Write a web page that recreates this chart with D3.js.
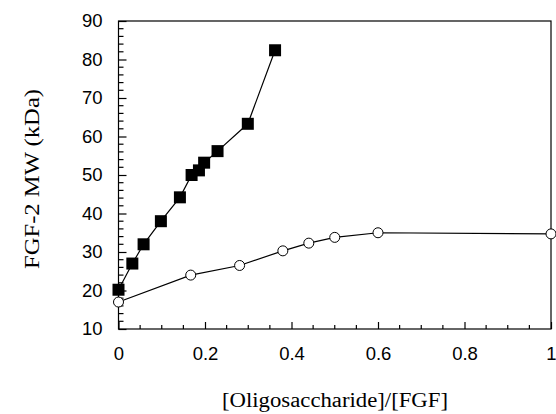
<!DOCTYPE html>
<html><head><meta charset="utf-8">
<script src="https://cdn.jsdelivr.net/npm/d3@7"></script>
<style>body{margin:0;background:#fff}svg{display:block}</style>
</head><body>
<svg id="c" width="556" height="414"></svg>
<script>
const squareX = [0, 0.032, 0.058, 0.098, 0.142, 0.169, 0.186, 0.198, 0.229, 0.299, 0.362];
const squareY = [20.2, 27, 32, 38, 44.2, 50, 51.2, 53.2, 56.2, 63.3, 82.4];
const circleX = [0, 0.167, 0.28, 0.38, 0.44, 0.5, 0.6, 1.0];
const circleY = [17, 24, 26.5, 30.3, 32.3, 33.8, 35, 34.7];
const xTicks = [0, 0.2, 0.4, 0.6, 0.8, 1];
const yTicks = [10, 20, 30, 40, 50, 60, 70, 80, 90];
const xTitle = "[Oligosaccharide]/[FGF]";
const yTitle = "FGF-2 MW (kDa)";

const svg = d3.select("#c");
const L = 118.5, R = 551, T = 21, B = 329;
const x = d3.scaleLinear().domain([0, 1]).range([L, R]);
const y = d3.scaleLinear().domain([10, 90]).range([B, T]);
const sans = "Liberation Sans, Arial, sans-serif";
const serif = "Liberation Serif, Times New Roman, serif";

// frame
svg.append("rect").attr("x", L).attr("y", T).attr("width", R - L).attr("height", B - T)
  .attr("fill", "none").attr("stroke", "#000").attr("stroke-width", 1.2);

// x axis ticks (inward)
const xAxis = d3.axisBottom(x).tickValues(xTicks).tickSize(-7).tickPadding(18)
  .tickFormat(d => d === 0 || d === 1 ? d3.format("d")(d) : d3.format(".1f")(d));
const gx = svg.append("g").attr("transform", `translate(0,${B})`).call(xAxis);
gx.select(".domain").remove();
gx.selectAll(".tick line").attr("stroke-width", 1.2);
gx.selectAll("text").attr("font-family", sans).attr("font-size", 18.5).attr("fill", "#000");
const xMinor = d3.range(0, 1.0001, 0.05).filter(v => !xTicks.some(t => Math.abs(t - v) < 1e-6));
svg.append("g").selectAll("line").data(xMinor).join("line")
  .attr("x1", d => x(d)).attr("x2", d => x(d)).attr("y1", B).attr("y2", B - 4)
  .attr("stroke", "#000").attr("stroke-width", 1.2);

// y axis
const yAxis = d3.axisLeft(y).tickValues(yTicks).tickSize(-8).tickPadding(16).tickFormat(d3.format("d"));
const gy = svg.append("g").attr("transform", `translate(${L},0)`).call(yAxis);
gy.select(".domain").remove();
gy.selectAll(".tick line").attr("stroke-width", 1.2);
gy.selectAll("text").attr("font-family", sans).attr("font-size", 18.5).attr("fill", "#000");
const yMinor = d3.range(10, 90.001, 2).filter(v => v % 10 !== 0);
svg.append("g").selectAll("line").data(yMinor).join("line")
  .attr("x1", L).attr("x2", L + 5).attr("y1", d => y(d)).attr("y2", d => y(d))
  .attr("stroke", "#000").attr("stroke-width", 1.2);

const line = d3.line().x(d => x(d[0])).y(d => y(d[1]));
const sq = squareX.map((v, i) => [v, squareY[i]]);
const ci = circleX.map((v, i) => [v, circleY[i]]);

svg.append("path").attr("d", line(ci)).attr("fill", "none").attr("stroke", "#000").attr("stroke-width", 1.2);
svg.append("path").attr("d", line(sq)).attr("fill", "none").attr("stroke", "#000").attr("stroke-width", 1.2);

const s = 12;
svg.append("g").selectAll("rect").data(sq).join("rect")
  .attr("x", d => x(d[0]) - s / 2).attr("y", d => y(d[1]) - s / 2)
  .attr("width", s).attr("height", s).attr("fill", "#000");

svg.append("g").selectAll("circle").data(ci).join("circle")
  .attr("cx", d => x(d[0])).attr("cy", d => y(d[1])).attr("r", 5)
  .attr("fill", "#fff").attr("stroke", "#000").attr("stroke-width", 1);

svg.append("text").attr("x", 335).attr("y", 407).attr("text-anchor", "middle")
  .attr("font-family", serif).attr("font-size", 20)
  .attr("textLength", 226).attr("lengthAdjust", "spacingAndGlyphs").text(xTitle);
svg.append("text").attr("transform", "translate(39,179) rotate(-90)").attr("text-anchor", "middle")
  .attr("font-family", serif).attr("font-size", 21)
  .attr("textLength", 180).attr("lengthAdjust", "spacingAndGlyphs").text(yTitle);
</script>
</body></html>
